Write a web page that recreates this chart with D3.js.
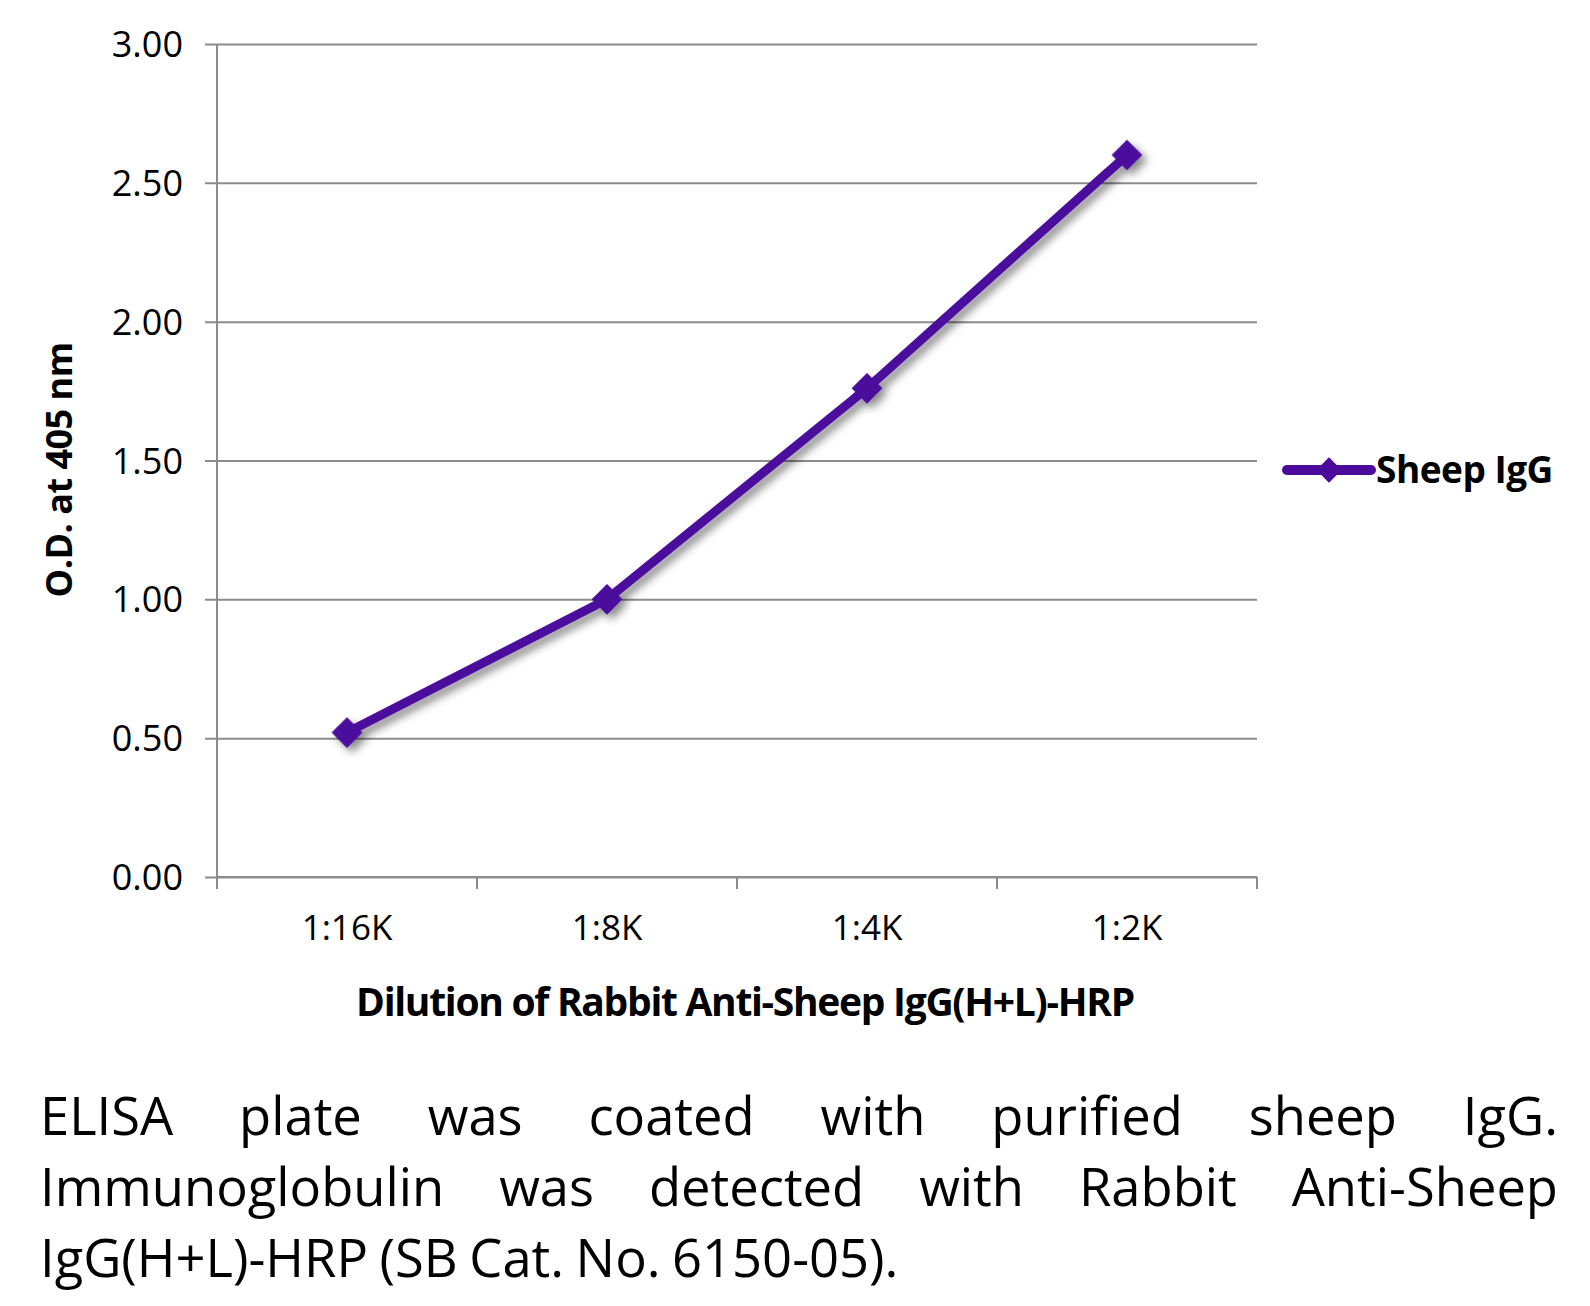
<!DOCTYPE html>
<html>
<head>
<meta charset="utf-8">
<script src="https://cdn.jsdelivr.net/npm/d3@7"></script>
<style>
  body { margin: 0; background: #fff; }
  text { font-family: 'Open Sans', 'Noto Sans', sans-serif; fill: #000; }
</style>
</head>
<body>
<svg width="1590" height="1306"></svg>
<script>
// chart data
const categories = ['1:16K', '1:8K', '1:4K', '1:2K']
const odValues = [0.52, 1.0, 1.76, 2.6]
const yTicks = [0, 0.5, 1.0, 1.5, 2.0, 2.5, 3.0]
const seriesName = 'Sheep IgG'
const yTitle = 'O.D. at 405 nm'
const xTitle = 'Dilution of Rabbit Anti-Sheep IgG(H+L)-HRP'
const captionLines = [
  'ELISA plate was coated with purified sheep IgG.',
  'Immunoglobulin was detected with Rabbit Anti-Sheep',
  'IgG(H+L)-HRP (SB Cat. No. 6150-05).'
]

const purple = '#4b0a9c'
const gridColor = '#8c8c8c'

const svg = d3.select('svg')
const plot = { left: 217, right: 1257, top: 44, bottom: 877 }

// drop shadow like the original office chart
const defs = svg.append('defs')
defs.append('filter')
  .attr('id', 'shadow')
  .attr('x', '-20%').attr('y', '-20%')
  .attr('width', '140%').attr('height', '140%')
  .append('feDropShadow')
  .attr('dx', 5).attr('dy', 5)
  .attr('stdDeviation', 4)
  .attr('flood-color', '#000')
  .attr('flood-opacity', 0.45)

const x = d3.scaleBand().domain(categories).range([plot.left, plot.right])
const y = d3.scaleLinear().domain([0, 3]).range([plot.bottom, plot.top])

// gridlines + y axis
const yAxis = d3.axisLeft(y)
  .tickValues(yTicks)
  .tickFormat(d3.format('.2f'))
  .tickSize(-(plot.right - plot.left))
  .tickPadding(34)
const gy = svg.append('g').attr('transform', `translate(${plot.left},0)`).call(yAxis)
gy.select('.domain').remove()
gy.selectAll('.tick line').attr('stroke', gridColor).attr('stroke-width', 2).attr('x1', -12)
gy.selectAll('.tick text').style('font-size', '36px').attr('dy', '0.35em')

svg.append('line')
  .attr('x1', plot.left).attr('x2', plot.left)
  .attr('y1', plot.top).attr('y2', plot.bottom)
  .attr('stroke', gridColor).attr('stroke-width', 2)

// x axis (ticks at category boundaries)
const gx = svg.append('g').attr('transform', `translate(0,${plot.bottom})`)
gx.append('line')
  .attr('x1', plot.left).attr('x2', plot.right)
  .attr('stroke', gridColor).attr('stroke-width', 2)
const bounds = categories.map((c) => x(c)).concat([x(categories[categories.length - 1]) + x.bandwidth()])
gx.selectAll('.bound')
  .data(bounds)
  .enter()
  .append('line')
  .attr('x1', (d) => d).attr('x2', (d) => d)
  .attr('y1', 0).attr('y2', 12)
  .attr('stroke', gridColor).attr('stroke-width', 2)
gx.selectAll('.lbl')
  .data(categories)
  .enter()
  .append('text')
  .attr('x', (d) => x(d) + x.bandwidth() / 2)
  .attr('y', 63)
  .attr('text-anchor', 'middle')
  .style('font-size', '35px')
  .text((d) => d)

// series line + diamond markers
const pts = categories.map((c, i) => [x(c) + x.bandwidth() / 2, y(odValues[i])])
const series = svg.append('g').attr('filter', 'url(#shadow)')
series.append('path')
  .attr('d', d3.line()(pts))
  .attr('fill', 'none')
  .attr('stroke', purple)
  .attr('stroke-width', 9)
  .attr('stroke-linejoin', 'round')
series.selectAll('.mark')
  .data(pts)
  .enter()
  .append('path')
  .attr('d', d3.symbol().type(d3.symbolSquare).size(470))
  .attr('transform', (d) => `translate(${d[0]},${d[1]}) rotate(45)`)
  .attr('fill', purple)

// legend
const leg = svg.append('g').attr('transform', 'translate(1287,470)')
leg.append('line').attr('x1', 0).attr('x2', 84)
  .attr('stroke', purple).attr('stroke-width', 10).attr('stroke-linecap', 'round')
leg.append('path')
  .attr('d', d3.symbol().type(d3.symbolSquare).size(320))
  .attr('transform', 'translate(42,0) rotate(45)')
  .attr('fill', purple)
leg.append('text')
  .attr('x', 89).attr('y', 13)
  .style('font-size', '37px').style('font-weight', 'bold')
  .style('letter-spacing', '-0.5px')
  .text(seriesName)

// axis titles
svg.append('text')
  .attr('transform', 'translate(72,470) rotate(-90)')
  .attr('text-anchor', 'middle')
  .style('font-size', '36px').style('font-weight', 'bold')
  .style('letter-spacing', '-0.5px')
  .text(yTitle)
svg.append('text')
  .attr('x', 745).attr('y', 1016)
  .attr('text-anchor', 'middle')
  .style('font-size', '39px').style('font-weight', 'bold')
  .style('letter-spacing', '-1.3px')
  .text(xTitle)

// caption, justified lines
const capLeft = 40, capRight = 1558, capSize = 52.5
captionLines.forEach((line, i) => {
  const by = 1135 + i * 71
  const words = line.split(' ')
  const last = i === captionLines.length - 1
  const t = svg.append('g')
  const nodes = words.map((w) => t.append('text').attr('y', by).style('font-size', capSize + 'px').text(w))
  const widths = nodes.map((n) => n.node().getComputedTextLength())
  const total = d3.sum(widths)
  const gap = last ? capSize * 0.22 : (capRight - capLeft - total) / (words.length - 1)
  let cx = capLeft
  nodes.forEach((n, k) => {
    n.attr('x', cx)
    cx += widths[k] + gap
  })
})
</script>
</body>
</html>
